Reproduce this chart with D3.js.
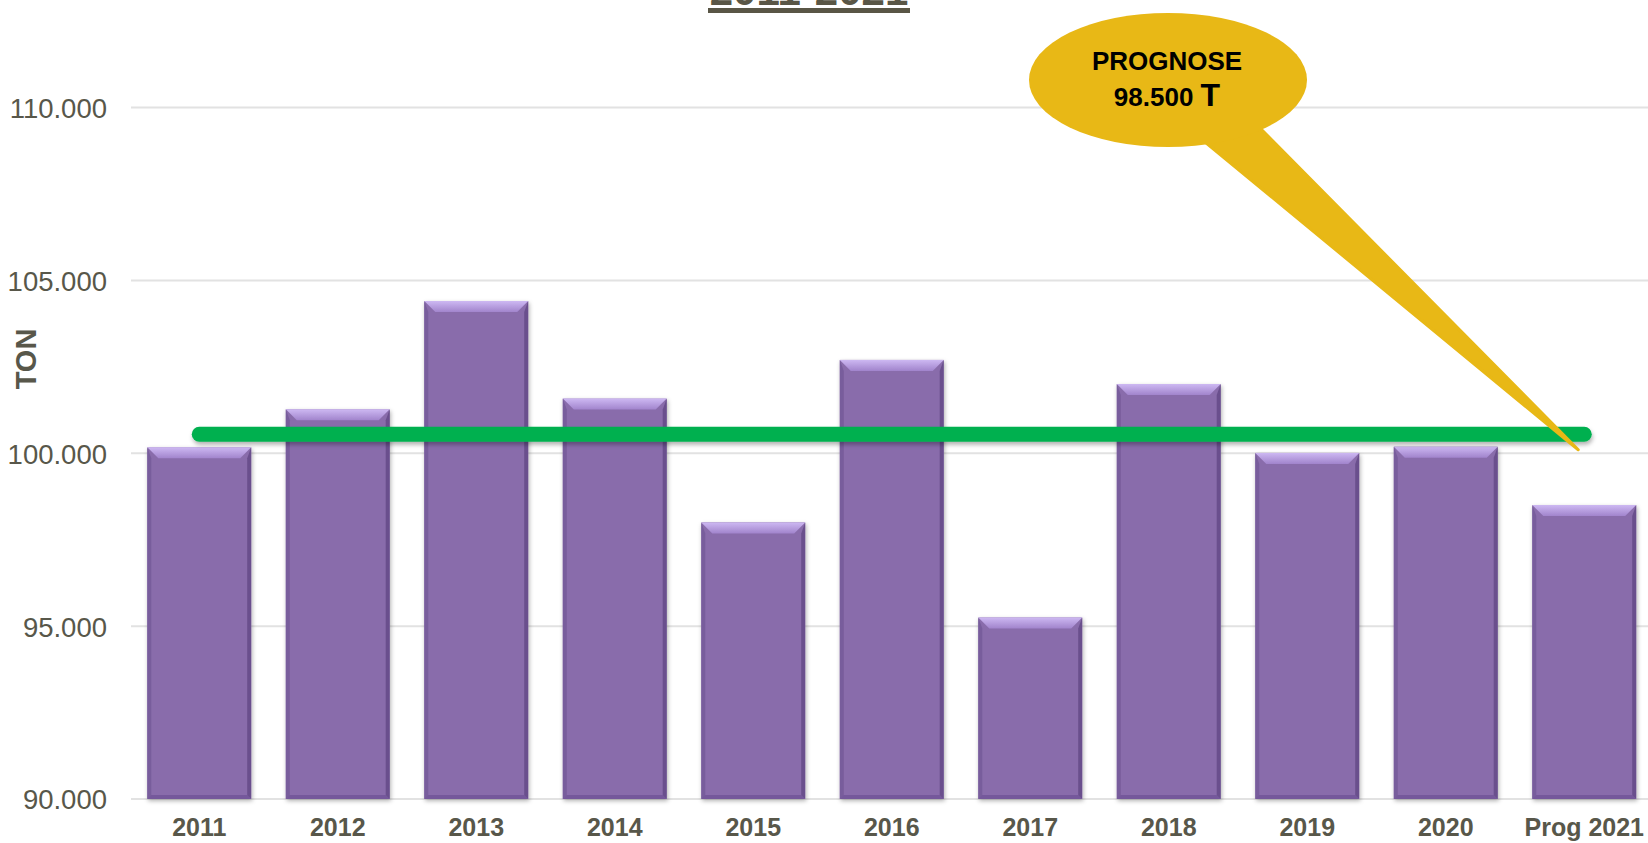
<!DOCTYPE html>
<html>
<head>
<meta charset="utf-8">
<script src="https://cdn.jsdelivr.net/npm/d3@7"></script>
<style>
  html, body { margin: 0; padding: 0; background: #fff; overflow: hidden; }
  text { font-family: Arial, "Liberation Sans", sans-serif; }
</style>
</head>
<body>
<script>
// data
var years = ["2011", "2012", "2013", "2014", "2015", "2016", "2017", "2018", "2019", "2020", "Prog 2021"];
var tons = [100170, 101270, 104400, 101580, 98000, 102700, 95250, 102000, 100010, 100190, 98500];
var averageTon = 100550;
var yTicks = [90000, 95000, 100000, 105000, 110000];
var titleText = "2011-2021";
var calloutLines = ["PROGNOSE", "98.500"];

var width = 1648, height = 843;
var textColor = "#58574a";

var svg = d3.select("body").append("svg").attr("width", width).attr("height", height);
var defs = svg.append("defs");

var shadow = defs.append("filter").attr("id", "shadow")
    .attr("x", "-20%").attr("y", "-20%").attr("width", "140%").attr("height", "140%");
shadow.append("feDropShadow").attr("dx", 1).attr("dy", 2).attr("stdDeviation", 2)
    .attr("flood-color", "#000").attr("flood-opacity", 0.3);

// line has a flat bbox, so give its shadow a fixed region
var lineShadow = defs.append("filter").attr("id", "lineShadow")
    .attr("filterUnits", "userSpaceOnUse")
    .attr("x", 0).attr("y", 0).attr("width", width).attr("height", height);
lineShadow.append("feDropShadow").attr("dx", 1).attr("dy", 3).attr("stdDeviation", 2)
    .attr("flood-color", "#000").attr("flood-opacity", 0.3);

var topGrad = defs.append("linearGradient").attr("id", "bevelTop").attr("x1", 0).attr("y1", 0).attr("x2", 0).attr("y2", 1);
topGrad.append("stop").attr("offset", "0%").attr("stop-color", "#cdb8f2");
topGrad.append("stop").attr("offset", "100%").attr("stop-color", "#a184cc");

var daLocale = d3.formatLocale({ decimal: ",", thousands: ".", grouping: [3], currency: ["", " kr."] });
var fmt = daLocale.format(",.0f");

var x = d3.scaleBand().domain(years).range([130, 1653.5]).paddingInner(0.25).paddingOuter(0.125);
var y = d3.scaleLinear().domain([90000, 110000]).range([799, 107.5]);

// gridlines
svg.append("g").selectAll("line").data(yTicks).enter().append("line")
    .attr("x1", 131).attr("x2", width)
    .attr("y1", function(d){ return y(d); }).attr("y2", function(d){ return y(d); })
    .attr("stroke", "#e2e2e2").attr("stroke-width", 2);

// y axis labels
var yAxis = d3.axisLeft(y).tickValues(yTicks).tickFormat(fmt).tickSize(0).tickPadding(0);
var yg = svg.append("g").attr("transform", "translate(107,0)").call(yAxis);
yg.select(".domain").remove();
yg.selectAll("text").attr("font-size", 27.5).attr("fill", textColor).attr("dy", "0.36em")
    .style("font-family", "Arial, 'Liberation Sans', sans-serif");

// x axis labels
var xAxis = d3.axisBottom(x).tickSize(0).tickPadding(0);
var xg = svg.append("g").attr("transform", "translate(0,836)").call(xAxis);
xg.select(".domain").remove();
xg.selectAll("text").attr("font-size", 25).attr("font-weight", "bold").attr("fill", textColor)
    .attr("dy", 0).attr("y", 0)
    .style("font-family", "Arial, 'Liberation Sans', sans-serif");

// y title
svg.append("text")
    .attr("transform", "translate(36,359) rotate(-90)")
    .attr("text-anchor", "middle")
    .attr("font-size", 29).attr("font-weight", "bold").attr("fill", textColor)
    .text("TON");

// bars with bevel
var bars = svg.append("g").selectAll("g").data(tons).enter().append("g")
    .attr("filter", "url(#shadow)");

var bev = 11;
bars.append("rect")
    .attr("x", function(d, i){ return x(years[i]); })
    .attr("y", function(d){ return y(d); })
    .attr("width", x.bandwidth())
    .attr("height", function(d){ return y(90000) - y(d); })
    .attr("fill", "#896cab");

bars.append("path")
    .attr("d", function(d, i){
      var x0 = x(years[i]), y0 = y(d), y1 = y(90000);
      return "M" + x0 + "," + y0 + "L" + (x0 + 4) + "," + (y0 + bev) + "L" + (x0 + 4) + "," + (y1 - 3) + "L" + x0 + "," + y1 + "Z";
    })
    .attr("fill", "#785d9c");

bars.append("path")
    .attr("d", function(d, i){
      var x1 = x(years[i]) + x.bandwidth(), y0 = y(d), y1 = y(90000);
      return "M" + x1 + "," + y0 + "L" + (x1 - 4) + "," + (y0 + bev) + "L" + (x1 - 4) + "," + (y1 - 3) + "L" + x1 + "," + y1 + "Z";
    })
    .attr("fill", "#6a508d");

bars.append("path")
    .attr("d", function(d, i){
      var x0 = x(years[i]), x1 = x0 + x.bandwidth(), y1 = y(90000);
      return "M" + x0 + "," + y1 + "L" + (x0 + 4) + "," + (y1 - 4) + "L" + (x1 - 4) + "," + (y1 - 4) + "L" + x1 + "," + y1 + "Z";
    })
    .attr("fill", "#75599b");

bars.append("path")
    .attr("d", function(d, i){
      var x0 = x(years[i]), x1 = x0 + x.bandwidth(), y0 = y(d);
      return "M" + x0 + "," + y0 + "L" + x1 + "," + y0 + "L" + (x1 - bev) + "," + (y0 + bev) + "L" + (x0 + bev) + "," + (y0 + bev) + "Z";
    })
    .attr("fill", "url(#bevelTop)");

// average line
var first = years[0], last = years[years.length - 1];
svg.append("line")
    .attr("x1", x(first) + x.bandwidth() / 2)
    .attr("x2", x(last) + x.bandwidth() / 2)
    .attr("y1", y(averageTon)).attr("y2", y(averageTon))
    .attr("stroke", "#00b050").attr("stroke-width", 15).attr("stroke-linecap", "round")
    .attr("filter", "url(#lineShadow)");

// title (cut at the top edge, as in the original)
svg.append("text")
    .attr("x", 809).attr("y", 5)
    .attr("text-anchor", "middle")
    .attr("font-size", 42).attr("font-weight", "bold").attr("fill", "#595646")
    .text(titleText);
svg.append("rect").attr("x", 708).attr("y", 8).attr("width", 202).attr("height", 5).attr("fill", "#595646");

// callout
var callout = svg.append("g");
var tipX = x(last) + x.bandwidth() / 2 - 6, tipY = y(100100);
callout.append("path")
    .attr("d", "M1205,142 L1260,128 L" + tipX + "," + tipY + " Z")
    .attr("fill", "#e8b816").attr("stroke", "#e8b816").attr("stroke-width", 3).attr("stroke-linejoin", "round");
callout.append("ellipse")
    .attr("cx", 1168).attr("cy", 80).attr("rx", 139).attr("ry", 67)
    .attr("fill", "#e8b816");
callout.append("text")
    .attr("x", 1167).attr("y", 70).attr("text-anchor", "middle")
    .attr("font-size", 26).attr("font-weight", "bold").attr("fill", "#000")
    .text(calloutLines[0]);
var t2 = callout.append("text")
    .attr("x", 1167).attr("y", 106).attr("text-anchor", "middle")
    .attr("font-weight", "bold").attr("fill", "#000");
t2.append("tspan").attr("font-size", 26).text(calloutLines[1] + " ");
t2.append("tspan").attr("font-size", 32).text("T");
</script>
</body>
</html>
